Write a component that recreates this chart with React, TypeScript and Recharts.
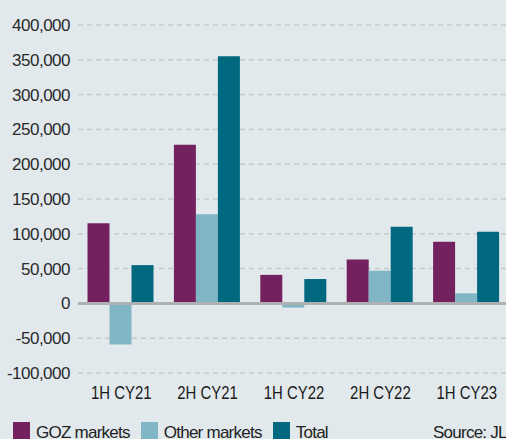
import React from 'react';
import { BarChart, Bar, XAxis, YAxis, CartesianGrid, ReferenceLine } from 'recharts';

const categories = ['1H CY21', '2H CY21', '1H CY22', '2H CY22', '1H CY23'];
const gozMarkets = [115000, 228000, 41000, 63000, 88500];
const otherMarkets = [-59000, 128000, -6000, 47000, 14500];
const total = [55000, 355000, 35000, 110000, 103000];
const yTicks = [-100000, -50000, 0, 50000, 100000, 150000, 200000, 250000, 300000, 350000, 400000];

const series = [
  { key: 'goz', name: 'GOZ markets', color: '#74215f', values: gozMarkets },
  { key: 'other', name: 'Other markets', color: '#7fb5c4', values: otherMarkets },
  { key: 'total', name: 'Total', color: '#00687f', values: total },
];

const data = categories.map((c, i) => ({
  name: c,
  goz: gozMarkets[i],
  other: otherMarkets[i],
  total: total[i],
}));

const fmt = (v: number) => v.toLocaleString('en-US');

// condensed category label, squeezed horizontally like the original narrow face
const CategoryTick = (props: any) => {
  const { x, y, payload } = props;
  return (
    <text
      transform={`translate(${x},${y}) scale(0.83,1)`}
      textAnchor="middle"
      dy="0.71em"
      fontSize={18}
      fill="#1a1a1a"
    >
      {payload.value}
    </text>
  );
};

export default function App() {
  return (
    <div
      style={{
        position: 'fixed',
        top: 0,
        left: 0,
        width: 506,
        height: 439,
        overflow: 'hidden',
        background: '#e2e9ec',
        fontFamily: '"Liberation Sans", Arial, sans-serif',
      }}
    >
      <BarChart
        width={510}
        height={440}
        data={data}
        margin={{ top: 25, right: 0, left: 0, bottom: 27 }}
        barCategoryGap="11%"
        barGap={0}
      >
        <CartesianGrid vertical={false} stroke="#c6cacd" strokeDasharray="5 4" strokeWidth={1.5} />
        <XAxis
          dataKey="name"
          axisLine={false}
          tickLine={false}
          height={40}
          tickSize={0}
          tickMargin={13}
          tick={<CategoryTick />}
        />
        <YAxis
          width={78}
          domain={[-100000, 400000]}
          ticks={yTicks}
          axisLine={false}
          tickLine={false}
          tickFormatter={fmt}
          tick={{ fontSize: 17, fill: '#2a2a2a', letterSpacing: -0.5 }}
        />
        {series.map((s) => (
          <Bar key={s.key} dataKey={s.key} name={s.name} fill={s.color} isAnimationActive={false} />
        ))}
        <ReferenceLine y={0} stroke="#aeb0b2" strokeWidth={3} />
      </BarChart>
      <div
        style={{
          position: 'absolute',
          top: 422,
          left: 13,
          display: 'flex',
          alignItems: 'flex-start',
          fontSize: 17,
          letterSpacing: -0.75,
          color: '#222',
          lineHeight: '20px',
          whiteSpace: 'nowrap',
        }}
      >
        {series.map((s) => (
          <div key={s.key} style={{ display: 'flex', alignItems: 'flex-start', marginRight: 11 }}>
            <span style={{ width: 17, height: 17, background: s.color, display: 'inline-block', marginRight: 6 }} />
            <span style={{ marginTop: 1 }}>{s.name}</span>
          </div>
        ))}
      </div>
      <div
        style={{
          position: 'absolute',
          top: 423,
          left: 433,
          fontSize: 17,
          letterSpacing: -0.75,
          color: '#222',
          lineHeight: '20px',
          whiteSpace: 'nowrap',
        }}
      >
        Source: JLL
      </div>
    </div>
  );
}
